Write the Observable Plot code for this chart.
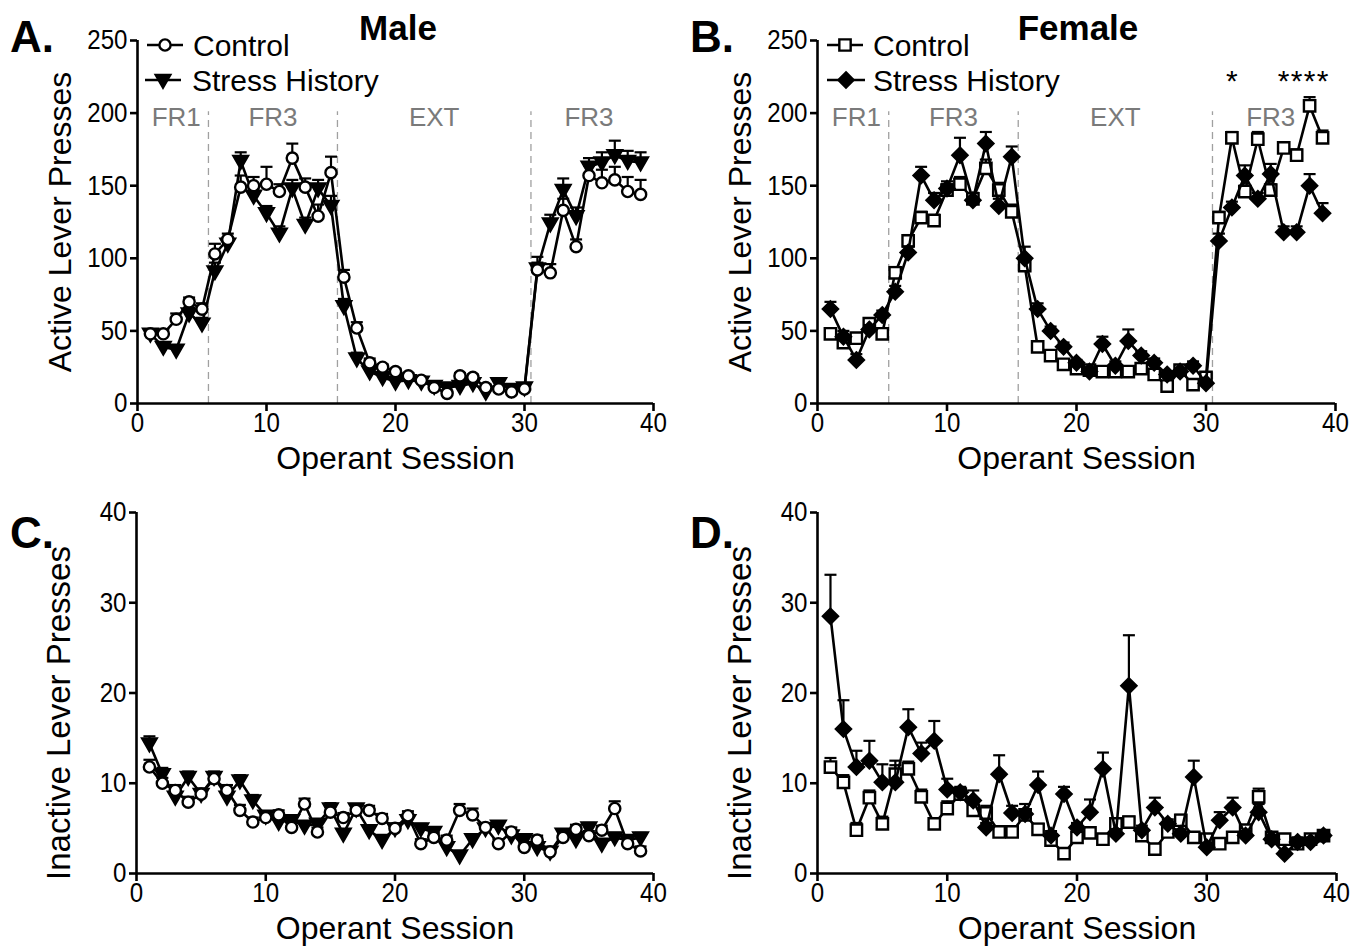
<!DOCTYPE html>
<html><head><meta charset="utf-8">
<script src="https://cdn.jsdelivr.net/npm/d3@7"></script>
<script src="https://cdn.jsdelivr.net/npm/@observablehq/plot@0.6"></script>
<style>
body{margin:0;background:#fff;}
#root{position:relative;width:1366px;height:950px;overflow:hidden;background:#fff;font-family:"Liberation Sans",Arial,sans-serif;}
.panel{position:absolute;}
#overlay{position:absolute;left:0;top:0;pointer-events:none;}
</style></head><body><div id="root"></div>
<script>
// ---------------- data ----------------
const sessions = [1,2,3,4,5,6,7,8,9,10,11,12,13,14,15,16,17,18,19,20,21,22,23,24,25,26,27,28,29,30,31,32,33,34,35,36,37,38,39];
const xTicks = [0,10,20,30,40];
const activeTicks = [0,50,100,150,200,250];
const inactiveTicks = [0,10,20,30,40];
const phaseBounds = [5.5,15.5,30.5];
const phaseLabels = ["FR1","FR3","EXT","FR3"];
const phaseLabelSessions = [3,10.5,23,35];
const seriesNames = ["Control","Stress History"];
const sigSessions = [32,36,37,38,39];

const maleCtrlActive   = [48,48,58,70,65,103,113,149,150,151,146,169,149,129,159,87,52,28,25,22,19,16,11,7,19,18,11,10,8,10,92,90,133,108,157,152,154,146,144];
const maleCtrlActiveSem= [3,3,4,3,4,7,4,8,6,12,5,10,6,8,11,5,4,3,2,2,2,2,2,2,2,2,2,2,2,2,5,6,8,5,7,9,9,10,10];
const maleStressActive = [48,39,37,62,55,91,110,167,143,131,117,148,123,148,136,67,31,22,18,15,16,15,12,11,12,14,8,14,10,11,93,124,147,129,163,166,171,167,166];
const maleStressActiveSem=[3,3,3,4,4,6,4,6,5,5,5,6,5,6,7,5,4,2,2,2,2,2,2,2,2,2,2,2,2,2,8,6,8,6,6,7,10,7,7];

const femaleCtrlActive   = [48,42,45,55,48,90,112,128,126,147,151,141,162,147,132,95,39,33,27,24,23,22,22,22,24,20,12,23,13,18,128,183,146,182,147,176,171,205,183];
const femaleCtrlActiveSem= [3,3,3,3,3,4,4,4,4,4,5,4,6,5,5,4,3,3,2,2,2,2,2,2,2,2,2,2,2,2,4,4,4,5,4,4,4,6,5];
const femaleStressActive = [65,46,30,51,61,77,104,157,140,148,171,140,179,136,170,100,65,50,39,28,22,41,26,43,33,28,20,22,26,14,112,135,157,141,158,118,118,150,131];
const femaleStressActiveSem=[5,4,4,3,3,4,4,6,5,5,12,5,8,5,7,8,4,3,3,2,3,5,3,8,3,3,2,2,3,2,5,4,7,4,7,4,4,8,7];

const maleCtrlInactive   = [11.8,10,9.2,7.9,8.8,10.5,9.2,7.0,5.7,6.2,6.5,5.1,7.7,4.6,6.8,6.2,7.0,7.0,6.1,5.0,6.4,3.3,4.0,3.7,7.0,6.5,5.1,3.3,4.6,2.9,3.7,2.4,4.0,4.9,4.2,4.8,7.2,3.3,2.5];
const maleCtrlInactiveSem= [0.8,0.6,0.6,0.6,0.6,0.6,0.6,0.6,0.5,0.5,0.5,0.5,0.6,0.5,0.6,0.5,0.5,0.5,0.5,0.5,0.5,0.5,0.5,0.5,0.7,0.7,0.5,0.5,0.5,0.5,0.5,0.4,0.5,0.5,0.5,0.5,0.8,0.5,0.5];
const maleStressInactive = [14.4,11,8.5,10.7,8.8,10.7,8.5,10.3,8.1,6.4,5.7,5.9,5.3,5.5,7.2,4.4,7.2,4.8,3.7,5.0,5.9,5.0,4.6,2.9,2.0,3.8,5.0,5.3,4.2,3.8,2.9,2.4,4.4,3.8,5.1,3.3,4.0,3.7,4.0];
const maleStressInactiveSem=[0.8,0.7,0.6,0.6,0.6,0.6,0.6,0.6,0.6,0.5,0.5,0.5,0.5,0.5,0.6,0.5,0.5,0.5,0.5,0.5,0.5,0.5,0.5,0.5,0.4,0.5,0.5,0.5,0.5,0.5,0.4,0.4,0.5,0.5,0.5,0.5,0.5,0.5,0.5];

const femaleCtrlInactive   = [11.8,10.1,4.8,8.4,5.5,11,11.6,8.5,5.5,7.2,8.8,7.0,6.7,4.6,4.6,6.5,4.9,3.7,2.2,4.0,4.5,3.8,5.5,5.7,4.2,2.7,4.6,5.9,4.0,3.8,3.3,4.0,4.8,8.5,4.0,3.8,3.3,3.8,4.2];
const femaleCtrlInactiveSem= [1,0.8,0.8,0.8,0.8,1,0.8,0.8,0.6,0.8,0.8,0.8,0.8,0.6,0.6,0.6,0.6,0.6,0.5,0.5,0.5,0.5,0.6,0.6,0.5,0.5,0.5,0.6,0.5,0.5,0.5,0.5,0.5,0.9,0.5,0.5,0.5,0.5,0.5];
const femaleStressInactive = [28.5,16,11.8,12.5,10.1,10.1,16.2,13.3,14.7,9.3,9.0,8.1,5.1,11.0,6.7,6.6,9.8,4.2,8.8,5.1,6.8,11.6,4.4,20.8,4.8,7.3,5.5,4.4,10.7,2.9,5.9,7.3,4.2,6.8,3.8,2.2,3.5,3.5,4.2];
const femaleStressInactiveSem=[4.6,3.2,1.8,2.2,2,2.4,2,1.2,2.2,1.2,0.5,1.1,0.5,2.1,0.8,1.1,1.5,0.5,0.8,0.5,1.4,1.8,0.5,5.6,0.5,1.1,0.5,0.5,1.8,0.5,0.9,1.1,0.5,0.9,0.5,0.3,0.5,0.5,0.5];

// ---------------- symbols ----------------
const triDown = {draw(ctx, size){const r=Math.sqrt(size/Math.PI); ctx.moveTo(-1.15*r,-0.8*r); ctx.lineTo(1.15*r,-0.8*r); ctx.lineTo(0,1.2*r); ctx.closePath();}};
const capSym = {draw(ctx, size){const r=Math.sqrt(size/Math.PI); ctx.moveTo(-r,0); ctx.lineTo(r,0);}};
const SYM = {
  circle: {symbol:"circle", r:5.6, fill:"white"},
  tri: {symbol:triDown, r:6.3, fill:"black"},
  square: {symbol:"square", r:6.4, fill:"white"},
  diamond: {symbol:"diamond2", r:6.8, fill:"black"}
};

function rows(vals, sem){ return sessions.map((s,i)=>({session:s, value:vals[i], top:vals[i]+sem[i]})); }
function seriesMarks(data, sym){
  return [
    Plot.ruleX(data, {x:"session", y1:"value", y2:"top", stroke:"black", strokeWidth:2.2}),
    Plot.dot(data, {x:"session", y:"top", symbol:capSym, r:6, fill:"none", stroke:"black", strokeWidth:2.2}),
    Plot.line(data, {x:"session", y:"value", stroke:"black", strokeWidth:2.6}),
    Plot.dot(data, {x:"session", y:"value", symbol:sym.symbol, r:sym.r, fill:sym.fill, stroke:"black", strokeWidth:2.4})
  ];
}

function makePanel(cfg){
  const marks = [];
  if (cfg.phases){
    marks.push(Plot.ruleX(phaseBounds, {x:d=>d, y1:0, y2:201, stroke:"#a0a0a0", strokeWidth:1.3, strokeDasharray:"7,5"}));
    marks.push(Plot.text(phaseLabels.map((l,i)=>({x:phaseLabelSessions[i], label:l})), {x:"x", y:197, text:"label", fill:"#7a7a7a", fontSize:26, lineAnchor:"middle"}));
  }
  if (cfg.sig){
    marks.push(Plot.text(sigSessions, {x:d=>d, y:222, text:()=>"*", fontSize:30, fill:"black"}));
  }
  cfg.series.forEach(s => marks.push(...seriesMarks(rows(s.values, s.sem), s.sym)));
  marks.push(
    Plot.ruleX([0], {stroke:"black", strokeWidth:2.6}),
    Plot.ruleY([0], {stroke:"black", strokeWidth:2.6}),
    Plot.axisX({ticks:xTicks, tickSize:8, tickPadding:1, strokeWidth:2.6, fontSize:28, label:null, tickFormat:d=>String(d)}),
    Plot.axisY({ticks:cfg.yTicks, tickSize:7, tickPadding:3, strokeWidth:2.6, fontSize:28, label:null, tickFormat:d=>String(d)}),
    Plot.text(["Operant Session"], {text:d=>d, frameAnchor:"bottom", dy:55, fontSize:32, lineAnchor:"middle"}),
    Plot.text([cfg.yTitle], {text:d=>d, frameAnchor:"left", dx:-77, dy:cfg.yTitleDy||0, rotate:-90, textAnchor:"middle", lineAnchor:"middle", fontSize:cfg.yTitleSize||32})
  );
  return Plot.plot({
    width:683, height:cfg.height,
    marginLeft:cfg.ml, marginRight:cfg.mr, marginTop:cfg.mt, marginBottom:cfg.mb,
    x:{domain:[0,40]}, y:{domain:[0,cfg.yMax]},
    style:{fontFamily:'"Liberation Sans", Arial, sans-serif', fontSize:"28px", background:"transparent", color:"black", overflow:"visible"},
    marks
  });
}

const root = document.getElementById("root");
function place(svg, left, top){
  const d = document.createElement("div");
  d.className = "panel"; d.style.left = left+"px"; d.style.top = top+"px";
  d.appendChild(svg); root.appendChild(d);
  svg.querySelectorAll('g[aria-label$="tick label"] text').forEach(t=>{
    const L = t.getComputedTextLength();
    t.setAttribute("textLength", L*0.86); t.setAttribute("lengthAdjust","spacingAndGlyphs");
  });
}

place(makePanel({height:480, ml:137, mr:30, mt:40, mb:77, yMax:250, yTicks:activeTicks, yTitle:"Active Lever Presses", phases:true,
  series:[{values:maleStressActive, sem:maleStressActiveSem, sym:SYM.tri},{values:maleCtrlActive, sem:maleCtrlActiveSem, sym:SYM.circle}]}), 0, 0);
place(makePanel({height:480, ml:134, mr:31, mt:40, mb:77, yMax:250, yTicks:activeTicks, yTitle:"Active Lever Presses", phases:true, sig:true,
  series:[{values:femaleCtrlActive, sem:femaleCtrlActiveSem, sym:SYM.square},{values:femaleStressActive, sem:femaleStressActiveSem, sym:SYM.diamond}]}), 683, 0);
place(makePanel({height:470, ml:136, mr:30, mt:32, mb:77, yMax:40, yTicks:inactiveTicks, yTitle:"Inactive Lever Presses", yTitleDy:20, yTitleSize:33,
  series:[{values:maleStressInactive, sem:maleStressInactiveSem, sym:SYM.tri},{values:maleCtrlInactive, sem:maleCtrlInactiveSem, sym:SYM.circle}]}), 0, 480);
place(makePanel({height:470, ml:134, mr:30, mt:32, mb:77, yMax:40, yTicks:inactiveTicks, yTitle:"Inactive Lever Presses", yTitleDy:20, yTitleSize:33,
  series:[{values:femaleCtrlInactive, sem:femaleCtrlInactiveSem, sym:SYM.square},{values:femaleStressInactive, sem:femaleStressInactiveSem, sym:SYM.diamond}]}), 683, 480);

// ---------------- overlay: panel letters, titles, legends ----------------
const ov = d3.select(root).append("svg").attr("id","overlay").attr("width",1366).attr("height",950)
  .style("font-family",'"Liberation Sans", Arial, sans-serif');
[["A.",10,52],["B.",690,52],["C.",10,548],["D.",690,548]].forEach(([t,x,y])=>
  ov.append("text").attr("x",x).attr("y",y).attr("font-size",44).attr("font-weight","bold").text(t));
[["Male",398,40],["Female",1078,40]].forEach(([t,x,y])=>
  ov.append("text").attr("x",x).attr("y",y).attr("font-size",35).attr("font-weight","bold").attr("text-anchor","middle").text(t));

function sym(g, kind, cx, cy){
  const s = SYM[kind];
  const type = s.symbol==="circle"?d3.symbolCircle: s.symbol==="square"?d3.symbolSquare: s.symbol==="diamond2"?d3.symbolDiamond2: s.symbol;
  g.append("path").attr("d", d3.symbol(type, Math.PI*s.r*s.r)()).attr("transform",`translate(${cx},${cy})`)
    .attr("fill", s.fill).attr("stroke","black").attr("stroke-width",2.4);
}
function legendRow(x0, x1, cy, kind, textX, label){
  ov.append("line").attr("x1",x0).attr("x2",x1).attr("y1",cy).attr("y2",cy).attr("stroke","black").attr("stroke-width",2.6);
  sym(ov, kind, (x0+x1)/2, cy);
  ov.append("text").attr("x",textX).attr("y",cy).attr("dy","0.36em").attr("font-size",30).text(label);
}
legendRow(147,183,45,"circle",193,seriesNames[0]);
legendRow(145,181,80,"tri",192,seriesNames[1]);
legendRow(827,863,45,"square",873,seriesNames[0]);
legendRow(827,865,80,"diamond",873,seriesNames[1]);
</script>
</body></html>
